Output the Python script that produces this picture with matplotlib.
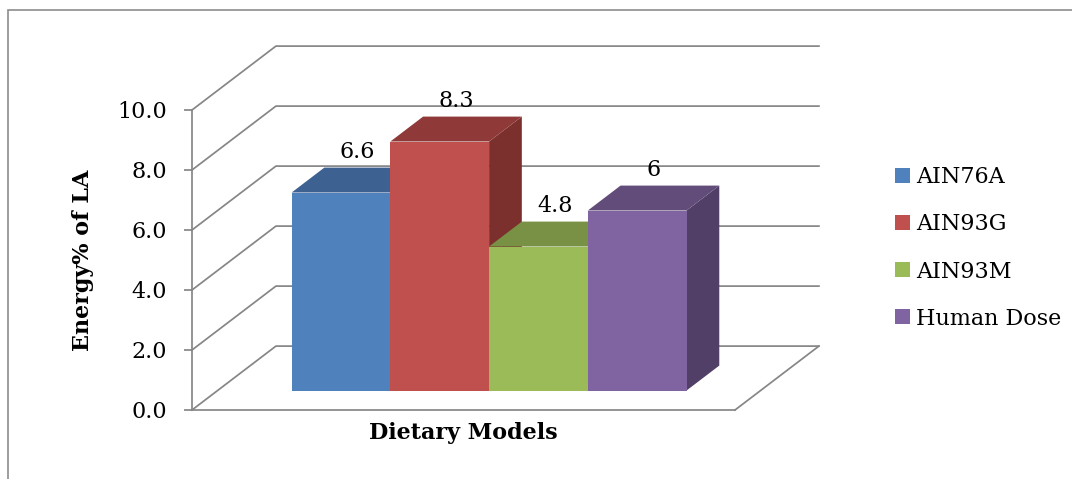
import matplotlib.pyplot as plt
from matplotlib.patches import Polygon, Patch, Rectangle

# ===== DATA =====
models = ["AIN76A", "AIN93G", "AIN93M", "Human Dose"]
values = [6.6, 8.3, 4.8, 6]
y_ticks = [0, 2, 4, 6, 8, 10]

front_colors = ["#4F81BD", "#C0504D", "#9BBB59", "#8064A2"]
top_colors = ["#3D6190", "#8F3A38", "#789144", "#614C7A"]
side_colors = ["#33527A", "#7B302E", "#657A39", "#523F68"]

GRID = "#868686"

# ===== 3D-ish GEOMETRY (data units) =====
FLOOR_W = 5.5          # floor width in bar widths
GAP = 0.75             # empty space left/right of the bar group
DX, DY = 0.85, 2.13    # depth vector of the floor
F0, F1 = 0.305, 0.695  # bars sit between these depth fractions

plt.rcParams["font.family"] = "DejaVu Serif"
plt.rcParams["font.size"] = 16

W, H = 1072, 479
fig = plt.figure(figsize=(W / 100, H / 100), dpi=100)
ax = fig.add_axes([192 / W, (H - 410) / H, 543 / W, 300 / H])
ax.set_xlim(0, FLOOR_W)
ax.set_ylim(0, 10)
ax.patch.set_alpha(0)

# outer chart border (runs off the right/bottom edge)
fig.add_artist(Rectangle((8 / W, -0.2), 1.2, (H - 10) / H + 0.2,
                         transform=fig.transFigure, fill=False,
                         edgecolor="#8c8c8c", lw=1.2))

# ===== WALLS AND FLOOR =====
for t in y_ticks:
    ax.plot([0, DX, FLOOR_W + DX], [t, t + DY, t + DY],
            color=GRID, lw=1.25, zorder=1, clip_on=False)
ax.plot([FLOOR_W, FLOOR_W + DX], [0, DY], color=GRID, lw=1.25,
        zorder=1, clip_on=False)

# ===== BARS =====
bdx, bdy = (F1 - F0) * DX, (F1 - F0) * DY
for i, v in enumerate(values):
    x0 = GAP + i + F0 * DX
    y0 = F0 * DY
    z = 3 + i
    side = Polygon([(x0 + 1, y0), (x0 + 1 + bdx, y0 + bdy),
                    (x0 + 1 + bdx, y0 + v + bdy), (x0 + 1, y0 + v)],
                   closed=True, facecolor=side_colors[i], edgecolor="none",
                   zorder=z, clip_on=False)
    top = Polygon([(x0, y0 + v), (x0 + 1, y0 + v),
                   (x0 + 1 + bdx, y0 + v + bdy), (x0 + bdx, y0 + v + bdy)],
                  closed=True, facecolor=top_colors[i], edgecolor="none",
                  zorder=z, clip_on=False)
    ax.add_patch(side)
    ax.add_patch(top)
    ax.bar(x0, v, width=1, bottom=y0, align="edge", color=front_colors[i],
           zorder=z + 0.5, clip_on=False)
    ax.text(x0 + 0.5 + bdx / 2, y0 + v + bdy / 2 + 0.95, f"{v:g}",
            ha="center", va="center", fontsize=16, zorder=10)

# ===== AXES =====
for s in ["top", "right"]:
    ax.spines[s].set_visible(False)
for s in ["left", "bottom"]:
    ax.spines[s].set_color(GRID)
    ax.spines[s].set_linewidth(1.25)
ax.set_yticks(y_ticks)
ax.set_yticklabels([f"{t:.1f}" for t in y_ticks])
ax.tick_params(axis="y", direction="out", length=6, width=1.25,
               color=GRID, pad=12, labelsize=16)
ax.set_xticks([])

ax.set_ylabel("Energy% of LA", fontweight="bold", fontsize=16, va="center")
ax.yaxis.set_label_coords(-0.2, 0.5)
ax.set_xlabel("Dietary Models", fontweight="bold", fontsize=16, va="center")
ax.xaxis.set_label_coords(0.5, -0.075)

# ===== LEGEND =====
handles = [Patch(facecolor=c, edgecolor="none") for c in front_colors]
fig.legend(handles, models, loc="center left",
           bbox_to_anchor=(884 / W, (H - 248) / H), frameon=False,
           handlelength=0.65, handleheight=0.65, handletextpad=0.3,
           labelspacing=1.13, fontsize=16, borderpad=0)

fig.savefig("out.png", dpi=100)
